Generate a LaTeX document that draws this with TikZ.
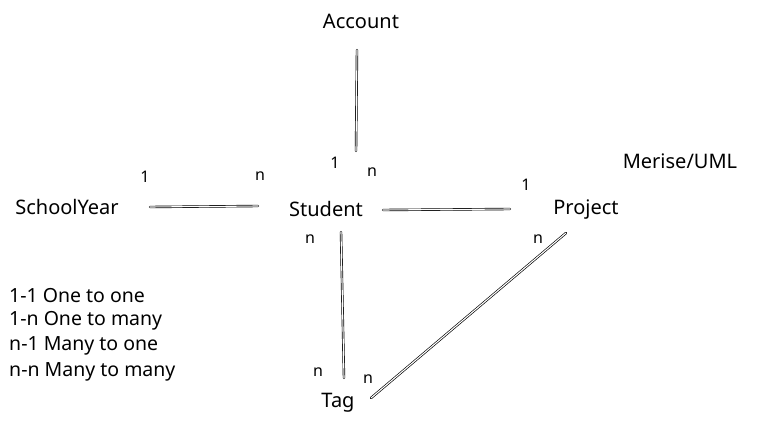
\documentclass[tikz,border=0pt]{standalone}
\usepackage{fontspec}
\setmainfont{Noto Sans}
\begin{document}
\begin{tikzpicture}[x=1pt,y=-1pt,
  lbl/.style={font=\fontsize{20}{24}\selectfont, inner sep=0pt},
  card/.style={font=\fontsize{16}{18}\selectfont, inner sep=0pt},
  legend/.style={font=\fontsize{19.5}{24}\selectfont, inner sep=0pt, anchor=west},
  rel/.style={double, double distance=1.1pt, line width=0.65pt, line cap=round}]
\useasboundingbox[fill=white] (0,0) rectangle (779,425);
% entities
\node[lbl] (account) at (361,21) {Account};
\node[lbl] (schoolyear) at (67,207) {SchoolYear};
\node[lbl] (student) at (326,209) {Student};
\node[lbl] (project) at (586,210) {Project};
\node[lbl] (tag) at (338,403) {Tag};
\node[lbl] (merise) at (680,161) {Merise/UML};
% legend
\node[legend] (legend1) at (9,296) {1-1 One to one};
\node[legend] (legend2) at (9,321) {1-n One to many};
\node[legend] (legend3) at (9,346) {n-1 Many to one};
\node[legend] (legend4) at (9,372) {n-n Many to many};
% cardinalities
\node[card] (c1) at (145,177) {1};
\node[card] (c2) at (260,176) {n};
\node[card] (c3) at (335,163) {1};
\node[card] (c4) at (372,172) {n};
\node[card] (c5) at (526,185) {1};
\node[card] (c6) at (310,239) {n};
\node[card] (c7) at (538,239) {n};
\node[card] (c8) at (318,372) {n};
\node[card] (c9) at (368,379) {n};
% connector end points
\coordinate (acc-s) at (357,50);
\coordinate (stu-n) at (356,151);
\coordinate (sy-e) at (150,207);
\coordinate (stu-w) at (258,206);
\coordinate (stu-e) at (383,210);
\coordinate (pro-w) at (510,209);
\coordinate (stu-s) at (341,232);
\coordinate (tag-n) at (344,378);
\coordinate (pro-s) at (566,233);
\coordinate (tag-e) at (371,398);
% connectors
\draw[rel] (acc-s) -- (stu-n);
\draw[rel] (sy-e) -- (stu-w);
\draw[rel] (stu-e) -- (pro-w);
\draw[rel] (stu-s) -- (tag-n);
\draw[rel] (pro-s) -- (tag-e);
\end{tikzpicture}
\end{document}
